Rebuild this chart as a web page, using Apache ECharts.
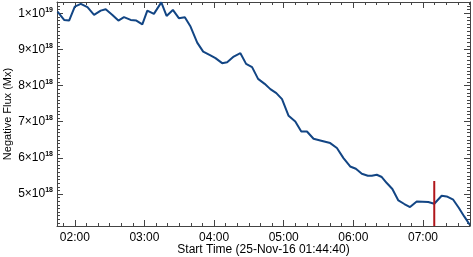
<!DOCTYPE html>
<html>
<head>
<meta charset="utf-8">
<script src="https://cdn.jsdelivr.net/npm/echarts@6/dist/echarts.min.js"></script>
<style>
html,body{margin:0;padding:0;background:#fff;}
#c{width:473px;height:257px;}
</style>
</head>
<body>
<div id="c"></div>
<script>
// time in minutes since 00:00 (25-Nov-16)
const timeMin = [105.13,110.80,115.10,120.00,125.16,130.92,136.59,142.35,146.65,152.41,157.56,162.38,168.14,173.04,178.19,182.49,188.16,194.53,199.08,204.50,209.65,214.81,219.71,225.47,230.62,236.90,241.20,246.96,251.26,256.93,262.69,267.59,272.75,277.91,283.58,288.48,293.64,298.54,304.21,309.97,315.13,320.03,325.70,331.46,340.06,345.82,351.49,357.25,362.15,367.31,372.47,375.91,380.21,384.50,388.80,393.61,398.77,403.93,408.83,414.59,424.56,429.72,436.08,440.38,446.05,450.95,455.51,460.30];
// negative flux in units of 1e18 Mx
const fluxE18 = [10.044,9.815,9.796,10.182,10.257,10.166,9.953,10.072,10.110,9.953,9.796,9.890,9.815,9.796,9.691,10.072,9.981,10.300,9.925,10.091,9.862,9.890,9.630,9.188,8.939,8.834,8.757,8.619,8.646,8.801,8.895,8.599,8.508,8.185,8.047,7.901,7.790,7.624,7.163,7.006,6.729,6.729,6.528,6.481,6.409,6.271,5.994,5.762,5.699,5.561,5.506,5.506,5.533,5.470,5.304,5.138,4.823,4.724,4.641,4.796,4.779,4.732,4.953,4.934,4.843,4.613,4.381,4.150];
const markerTime = 429.7;
const markerTop = 5.36;
const xTickLabels = {2:'02:00',3:'03:00',4:'04:00',5:'05:00',6:'06:00',7:'07:00'};
const xTitle = 'Start Time (25-Nov-16 01:44:40)';
const yTitle = 'Negative Flux (Mx)';

const X_MIN = 104.67/60, X_MAX = 460.5/60, Y_MIN = 4.116, Y_MAX = 10.31;
const FONT = 'Liberation Sans';
const axisColor = '#444';

function isInt(v){ return Math.abs(v - Math.round(v)) < 1e-6; }
function yLabel(v){
  if (!isInt(v)) return '';
  const r = Math.round(v);
  if (r >= 10) return '{m|' + (r/10) + '×10}{s|19}';
  return '{m|' + r + '×10}{s|18}';
}
function xLabel(v){
  if (!isInt(v)) return '';
  return xTickLabels[Math.round(v)] || '';
}

const chart = echarts.init(document.getElementById('c'), null, {renderer:'canvas'});
const baseX = {
  type:'value', min:X_MIN, max:X_MAX, splitNumber:5,
  axisLine:{show:true, onZero:false, lineStyle:{color:axisColor, width:1}},
  axisTick:{show:true, inside:true, length:6, lineStyle:{color:axisColor}},
  minorTick:{show:true, splitNumber:6, length:3, lineStyle:{color:axisColor}},
  splitLine:{show:false}
};
const baseY = {
  type:'value', min:Y_MIN, max:Y_MAX, splitNumber:6,
  axisLine:{show:true, onZero:false, lineStyle:{color:axisColor, width:1}},
  axisTick:{show:true, inside:true, length:6, lineStyle:{color:axisColor}},
  minorTick:{show:true, splitNumber:10, length:3, lineStyle:{color:axisColor}},
  splitLine:{show:false}
};
chart.setOption({
  animation:false,
  backgroundColor:'#fff',
  grid:{left:57, right:3, top:2, bottom:31, containLabel:false, outerBoundsMode:'none'},
  xAxis:[
    Object.assign({}, baseX, {
      position:'bottom',
      axisLabel:{show:true, margin:6, color:'#000', fontFamily:FONT, fontSize:12,
        showMinLabel:false, showMaxLabel:false, formatter:xLabel},
      name:xTitle, nameLocation:'middle', nameGap:18, nameMoveOverlap:false,
      nameTextStyle:{color:'#000', fontFamily:FONT, fontSize:12}
    }),
    Object.assign({}, baseX, {position:'top', axisLabel:{show:false}})
  ],
  yAxis:[
    Object.assign({}, baseY, {
      position:'left',
      axisLabel:{show:true, margin:4, color:'#000', fontFamily:FONT, fontSize:12,
        showMinLabel:false, showMaxLabel:false,
        formatter:yLabel,
        rich:{
          m:{fontFamily:FONT, fontSize:12, color:'#000'},
          s:{fontFamily:FONT, fontSize:7, fontWeight:'bold', color:'#000', padding:[0,0,7,0]}
        }},
      name:yTitle, nameLocation:'middle', nameGap:44, nameRotate:90, nameMoveOverlap:false,
      nameTextStyle:{color:'#000', fontFamily:FONT, fontSize:11}
    }),
    Object.assign({}, baseY, {position:'right', axisLabel:{show:false}})
  ],
  series:[
    {
      type:'line', xAxisIndex:0, yAxisIndex:0,
      data: timeMin.map((t,i)=>[t/60, fluxE18[i]]),
      showSymbol:false, smooth:false,
      lineStyle:{color:'#124584', width:2},
      clip:true
    },
    {
      type:'line', xAxisIndex:0, yAxisIndex:0,
      data:[[markerTime/60, Y_MIN],[markerTime/60, markerTop]],
      showSymbol:false,
      lineStyle:{color:'#b0161b', width:2},
      z:3
    }
  ]
});
</script>
</body>
</html>
